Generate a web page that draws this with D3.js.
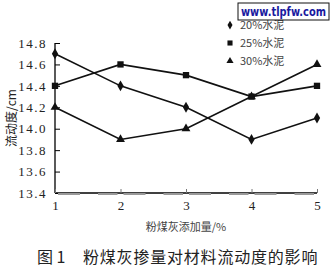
<!DOCTYPE html>
<html>
<head>
<meta charset="utf-8">
<style>
  body { margin: 0; background: #fff; }
  svg text { fill: #222; }
</style>
</head>
<body>
<script src="https://cdn.jsdelivr.net/npm/d3@7"></script>
<script>
var ashLevels = [1, 2, 3, 4, 5];
var yTicks = [13.4, 13.6, 13.8, 14.0, 14.2, 14.4, 14.6, 14.8];
var cement20 = [14.7, 14.4, 14.2, 13.9, 14.1];
var cement25 = [14.4, 14.6, 14.5, 14.3, 14.4];
var cement30 = [14.2, 13.9, 14.0, 14.3, 14.6];
var seriesNames = ["20%水泥", "25%水泥", "30%水泥"];

var width = 332, height = 269;
var serif = "'Liberation Serif', 'DejaVu Serif', serif";
var cjk = "'Noto Sans CJK SC', sans-serif";

var svg = d3.select("body").append("svg")
  .attr("width", width).attr("height", height);

var x = d3.scaleLinear().domain([1, 5]).range([55, 317]);
var y = d3.scaleLinear().domain([13.4, 14.8]).range([193, 43]);

// axes
var yAxis = svg.append("g")
  .attr("transform", "translate(55,0)")
  .call(d3.axisLeft(y).tickValues(yTicks).tickSize(-5).tickPadding(8)
    .tickFormat(function(d) { return d3.format(".1f")(d); }));
yAxis.select(".domain").attr("d", "M0,43V193").attr("stroke-width", 1.3);
yAxis.selectAll("text").attr("font-family", serif).attr("font-size", 13)
  .attr("letter-spacing", "1.5px");

var xAxis = svg.append("g")
  .attr("transform", "translate(0,193)")
  .call(d3.axisBottom(x).tickValues(ashLevels).tickSize(-4).tickPadding(8)
    .tickFormat(d3.format("d")));
xAxis.select(".domain").attr("d", "M55,0H317").attr("stroke-width", 1.3);
xAxis.selectAll(".tick line").attr("stroke", "#777");
xAxis.selectAll("text").attr("font-family", serif).attr("font-size", 13);

// gray segments along the x axis (scan artefact of the original)
svg.append("g").selectAll("line")
  .data(d3.pairs(ashLevels))
  .join("line")
  .attr("x1", function(d) { return x(d[0]) + 3; })
  .attr("x2", function(d) { return x(d[1]) - 3; })
  .attr("y1", 194).attr("y2", 194)
  .attr("stroke", "#999").attr("stroke-width", 2)
  .attr("stroke-dasharray", "22,18");

// series
var series = [
  { name: seriesNames[0], values: cement20, sym: d3.symbolDiamond, size: 34 },
  { name: seriesNames[1], values: cement25, sym: d3.symbolSquare, size: 40 },
  { name: seriesNames[2], values: cement30, sym: d3.symbolTriangle, size: 34 }
];

var line = d3.line()
  .x(function(d, i) { return x(ashLevels[i]); })
  .y(function(d) { return y(d); });

series.forEach(function(s) {
  svg.append("path")
    .attr("d", line(s.values))
    .attr("fill", "none").attr("stroke", "#111").attr("stroke-width", 1.6);
  svg.append("g").selectAll("path")
    .data(s.values)
    .join("path")
    .attr("transform", function(d, i) { return "translate(" + x(ashLevels[i]) + "," + y(d) + ")"; })
    .attr("d", d3.symbol().type(s.sym).size(s.size))
    .attr("fill", "#111");
});

// legend
var legend = svg.append("g").selectAll("g")
  .data(series)
  .join("g")
  .attr("transform", function(d, i) { return "translate(230," + (25 + i * 18) + ")"; });
legend.append("path")
  .attr("d", function(d) { return d3.symbol().type(d.sym).size(d.size * 0.65)(); })
  .attr("fill", "#111");
legend.append("text")
  .attr("x", 10).attr("dy", "0.35em")
  .style("font-family", cjk).style("font-size", "11px").style("fill", "#444")
  .text(function(d) { return d.name; });

// axis titles
svg.append("text")
  .attr("transform", "translate(12,118) rotate(-90)")
  .attr("text-anchor", "middle").attr("dy", "0.35em")
  .style("font-family", cjk).style("font-size", "12px")
  .text("流动度/cm");

svg.append("text")
  .attr("x", 186).attr("y", 231)
  .attr("text-anchor", "middle")
  .style("font-family", cjk).style("font-size", "11px").style("fill", "#444")
  .text("粉煤灰添加量/%");

svg.append("text")
  .attr("x", 37).attr("y", 263)
  .style("font-family", cjk).style("font-size", "16px")
  .text("图 1");
svg.append("text")
  .attr("x", 83).attr("y", 263)
  .style("font-family", cjk).style("font-size", "16px")
  .style("letter-spacing", "0.8px")
  .text("粉煤灰掺量对材料流动度的影响");

// watermark box
svg.append("rect")
  .attr("x", 238).attr("y", 3).attr("width", 91).attr("height", 17)
  .attr("fill", "#fff").attr("stroke", "#111").attr("stroke-width", 1);
svg.append("text")
  .attr("x", 283.5).attr("y", 15.5)
  .attr("text-anchor", "middle")
  .attr("textLength", 85).attr("lengthAdjust", "spacingAndGlyphs")
  .style("font-family", "'DejaVu Sans', sans-serif").style("font-size", "12px")
  .style("font-weight", "bold").style("fill", "#1a1aa0")
  .text("www.tlpfw.com");
</script>
</body>
</html>
